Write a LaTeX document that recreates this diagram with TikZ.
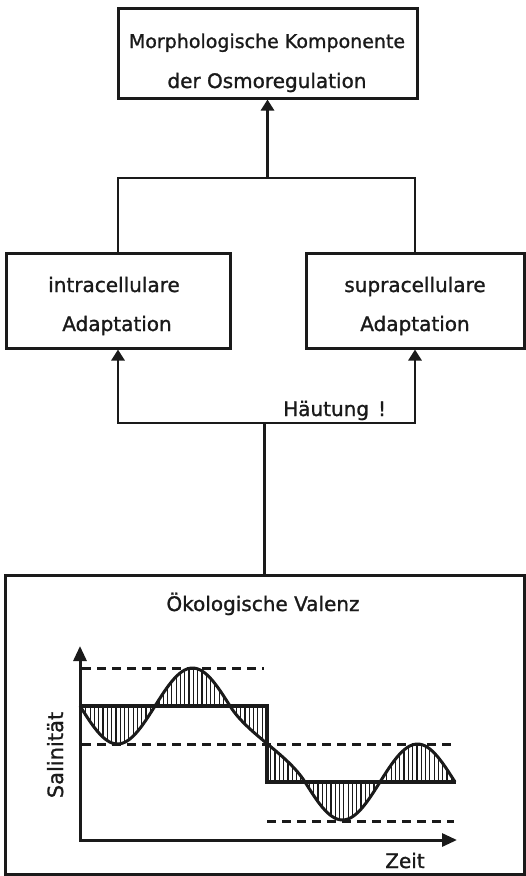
\documentclass[tikz,border=0pt]{standalone}
\usepackage{fontspec}
\setmainfont{DejaVu Sans}[FakeBold=1.2]
\usetikzlibrary{arrows.meta}
\definecolor{ink}{HTML}{1A1A1A}
\begin{document}
\begin{tikzpicture}[x=1pt,y=-1pt,
  box/.style={draw=ink,line width=3pt,inner sep=0pt,rectangle},
  txt/.style={text=ink,font=\fontsize{20}{24}\selectfont,inner sep=0pt},
  conn/.style={draw=ink,line width=2.8pt},
  tip/.style={-{Triangle[length=11pt,width=13pt]}},
  axisline/.style={draw=ink,line width=3pt},
  dashline/.style={draw=ink,line width=3pt,dash pattern=on 9pt off 6pt},
  meanline/.style={draw=ink,line width=3.2pt},
  curveline/.style={draw=ink,line width=3pt},
  hatch/.style={draw=ink,line width=1.2pt}]
\useasboundingbox (0,0) rectangle (526,876);

% boxes
\node[box,minimum width=299pt,minimum height=90pt] (T) at (267.5,53) {};
\node[box,minimum width=224pt,minimum height=95pt] (L) at (118,300.5) {};
\node[box,minimum width=218pt,minimum height=95pt] (R) at (415,300.5) {};
\node[box,minimum width=519pt,minimum height=299pt] (B) at (264.5,724.5) {};

% texts
\node[txt,anchor=base,font=\fontsize{19}{24}\selectfont] (t1) at (267,48) {Morphologische Komponente};
\node[txt,anchor=base] (t2) at (267,88) {der Osmoregulation};
\node[txt,anchor=base] (l1) at (114,292) {intracellulare};
\node[txt,anchor=base] (l2) at (117,331) {Adaptation};
\node[txt,anchor=base] (r1) at (415,292) {supracellulare};
\node[txt,anchor=base] (r2) at (415,331) {Adaptation};
\node[txt,anchor=base west] (h) at (283,416) {Häutung\hspace{9pt}!};
\node[txt,anchor=base] (v) at (263,611) {Ökologische Valenz};
\node[txt,anchor=base] (z) at (405,868) {Zeit};
\node[txt,anchor=base,rotate=90,font=\fontsize{21}{24}\selectfont] (s) at (63,755) {Salinität};

% connectors
\coordinate (j1) at (267.5,178);
\coordinate (j2) at (B.north |- 0,423);
\draw[conn] (L.north) |- (j1) -| (R.north);
\draw[conn,tip] (j1) -- (T.south);
\draw[conn] (B.north) -- (j2);
\draw[conn,tip] (j2) -| (L.south);
\draw[conn,tip] (j2) -| (R.south);

% graph
\coordinate (O) at (80,840);
\coordinate (Ytip) at (80,646);
\coordinate (Xtip) at (457,840);

\begin{scope}
\clip plot[domain=80:230,samples=60] (\x,{706+38*sin(2.4*(\x-80))})
  .. controls (248,734.6) and (287,753.4) .. (305,782)
  -- plot[domain=305:455,samples=60] (\x,{782+38*sin(2.4*(\x-305))})
  -- (267,782) -- (267,706) -- cycle;
\foreach \i in {0,...,88} \draw[hatch] ({81.5+4.3*\i},650) -- ({81.5+4.3*\i},830);
\end{scope}

\draw[dashline] (82,668) -- (264,668);
\draw[dashline] (82,744) -- (454,744);
\draw[dashline] (267,821) -- (454,821);

\draw[meanline] (80,706) -- (267,706) -- (267,782) -- (456,782);

\draw[curveline] plot[domain=80:230,samples=60] (\x,{706+38*sin(2.4*(\x-80))})
  .. controls (248,734.6) and (287,753.4) .. (305,782)
  -- plot[domain=305:455,samples=60] (\x,{782+38*sin(2.4*(\x-305))});

\draw[axisline,{Triangle[length=15pt,width=13pt]}-{Triangle[length=15pt,width=13pt]}] (Ytip) |- (Xtip);
\end{tikzpicture}
\end{document}
